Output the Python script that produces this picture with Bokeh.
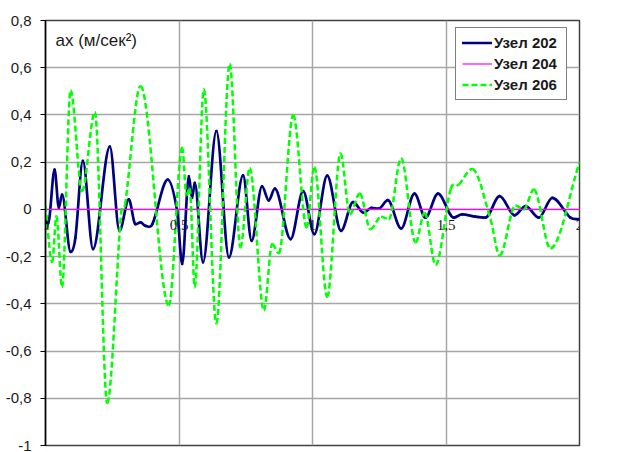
from bokeh.plotting import figure
from bokeh.models import Range1d, Legend, LegendItem, Label, LabelSet, ColumnDataSource, FixedTicker
from bokeh.embed import file_html
from bokeh.resources import INLINE

# ---- data ----
t202 = [0.000, 0.010, 0.034, 0.050, 0.062, 0.094, 0.112, 0.140, 0.178, 0.241,
        0.277, 0.312, 0.337, 0.356, 0.375, 0.400, 0.458, 0.493, 0.512, 0.537,
        0.549, 0.559, 0.590, 0.640, 0.687, 0.740, 0.772, 0.811, 0.836, 0.859,
        0.918, 0.965, 1.007, 1.055, 1.107, 1.152, 1.192, 1.221, 1.248, 1.282,
        1.332, 1.382, 1.423, 1.470, 1.529, 1.560, 1.610, 1.648, 1.701, 1.757,
        1.798, 1.848, 1.898, 1.966, 2.000]
a202 = [-0.05, -0.06, 0.168, 0.007, 0.063, -0.18, -0.12, 0.206, -0.168, 0.266,
        -0.091, 0.042, -0.063, -0.055, -0.07, -0.063, 0.126, -0.007, -0.231, 0.14,
        0.049, 0.112, -0.224, 0.332, -0.203, 0.144, -0.133, 0.098, 0.038, 0.088,
        -0.126, 0.077, -0.105, 0.143, -0.091, 0.031, -0.014, 0.007, 0.003, 0.039,
        -0.081, 0.067, -0.035, 0.067, -0.035, -0.021, -0.031, -0.035, 0.056, -0.025,
        0.014, -0.035, 0.049, -0.035, -0.042]

t204 = [0.0, 2.0]
a204 = [0.0, 0.0]

t206 = [0.000, 0.025, 0.041, 0.062, 0.094, 0.137, 0.185, 0.231, 0.283, 0.298,
        0.356, 0.462, 0.512, 0.528, 0.540, 0.559, 0.593, 0.640, 0.690, 0.730,
        0.765, 0.818, 0.849, 0.874, 0.928, 0.978, 1.007, 1.055, 1.105, 1.140,
        1.177, 1.217, 1.257, 1.286, 1.332, 1.386, 1.420, 1.461, 1.517, 1.548,
        1.598, 1.667, 1.701, 1.760, 1.791, 1.829, 1.891, 2.000]
a206 = [0.014, -0.224, -0.028, -0.33, 0.505, 0.077, 0.413, -0.82, -0.02, 0.02,
        0.523, -0.407, 0.262, 0.06, 0.09, -0.33, 0.509, -0.484, 0.617, -0.161,
        0.175, -0.428, -0.147, -0.186, 0.40, -0.077, 0.18, -0.371, 0.238, -0.021,
        0.067, -0.084, -0.031, -0.042, 0.217, -0.14, -0.014, -0.235, 0.084, 0.105,
        0.171, -0.042, -0.196, 0.017, 0.0, 0.084, -0.165, 0.199]

series_names = ["Узел 202", "Узел 204", "Узел 206"]

x_ticks = [0, 0.5, 1, 1.5, 2]
x_tick_labels = ["0", "0,5", "1", "1,5", "2"]
y_ticks = [-1, -0.8, -0.6, -0.4, -0.2, 0, 0.2, 0.4, 0.6, 0.8]
y_tick_labels = ["-1", "-0,8", "-0,6", "-0,4", "-0,2", "0", "0,2", "0,4", "0,6", "0,8"]

y_title = "ax (м/сек²)"
x_title = "t (сек)"

FONT = "Liberation Sans"


def smooth_segments(xs, ys):
    """Smoothed-line rendering (like a spreadsheet's 'smoothed line'):
    one cubic Bezier per pair of neighbouring data points."""
    n = len(xs)
    m = []
    for i in range(n):
        if i == 0:
            s = (ys[1] - ys[0]) / (xs[1] - xs[0])
        elif i == n - 1:
            s = (ys[-1] - ys[-2]) / (xs[-1] - xs[-2])
        else:
            if (ys[i] - ys[i - 1]) * (ys[i + 1] - ys[i]) <= 0:
                s = 0.0
            else:
                s = (ys[i + 1] - ys[i - 1]) / (xs[i + 1] - xs[i - 1])
        m.append(s)
    d = dict(x0=[], y0=[], x1=[], y1=[], cx0=[], cy0=[], cx1=[], cy1=[])
    for i in range(n - 1):
        h = xs[i + 1] - xs[i]
        d["x0"].append(xs[i]); d["y0"].append(ys[i])
        d["x1"].append(xs[i + 1]); d["y1"].append(ys[i + 1])
        d["cx0"].append(xs[i] + h / 3); d["cy0"].append(ys[i] + m[i] * h / 3)
        d["cx1"].append(xs[i + 1] - h / 3); d["cy1"].append(ys[i + 1] - m[i + 1] * h / 3)
    return ColumnDataSource(d)


p = figure(width=636, height=452, output_backend="svg", toolbar_location=None,
           x_range=Range1d(0, 2), y_range=Range1d(-1, 0.8),
           min_border_left=45, min_border_right=57, min_border_top=20, min_border_bottom=7)
p.background_fill_color = "white"
p.border_fill_color = "white"
p.outline_line_color = "#404040"
p.outline_line_width = 1.5

p.xaxis.visible = False
p.xgrid.ticker = FixedTicker(ticks=x_ticks)
p.ygrid.ticker = FixedTicker(ticks=y_ticks)
for g in (p.xgrid, p.ygrid):
    g.grid_line_color = "#a6a6a6"
    g.grid_line_width = 1.5

ya = p.yaxis[0]
ya.ticker = FixedTicker(ticks=y_ticks)
ya.major_label_overrides = {v: s for v, s in zip(y_ticks, y_tick_labels)}
ya.axis_line_color = "black"
ya.axis_line_width = 1.5
ya.major_tick_line_color = "black"
ya.major_tick_in = 0
ya.major_tick_out = 5
ya.minor_tick_line_color = None
ya.major_label_standoff = 9
ya.major_label_text_font = FONT
ya.major_label_text_font_size = "15px"
ya.major_label_text_color = "#1a1a1a"

bez = dict(x0="x0", y0="y0", x1="x1", y1="y1", cx0="cx0", cy0="cy0", cx1="cx1", cy1="cy1")
r202 = p.bezier(source=smooth_segments(t202, a202), line_color="#000080",
                line_width=2.7, line_cap="round", **bez)
r204 = p.line(t204, a204, line_color="#ff00ff", line_width=1.2)
r206 = p.bezier(source=smooth_segments(t206, a206), line_color="#00ff00",
                line_width=2.5, line_dash="6 3", **bez)

src = ColumnDataSource(dict(x=x_ticks, y=[0.0] * len(x_ticks), text=x_tick_labels))
p.add_layout(LabelSet(x="x", y="y", text="text", source=src, text_align="center",
                      text_baseline="top", y_offset=-11, text_font=FONT,
                      text_font_size="15px", text_color="#1a1a1a"))

p.add_layout(Label(x=0.0375, y=0.715, text=y_title, text_baseline="middle",
                   text_font=FONT, text_font_size="17px", text_color="#1a1a1a"))
p.add_layout(Label(x=2.034, y=0, text=x_title, text_baseline="middle",
                   text_font=FONT, text_font_size="17px", text_color="#1a1a1a"))

legend = Legend(items=[LegendItem(label=series_names[0], renderers=[r202]),
                       LegendItem(label=series_names[1], renderers=[r204]),
                       LegendItem(label=series_names[2], renderers=[r206])],
                location=(410, 345))
legend.label_text_font = FONT
legend.label_text_font_size = "15px"
legend.label_text_font_style = "bold"
legend.label_text_color = "#1a1a1a"
legend.glyph_width = 30
legend.glyph_height = 17
legend.label_height = 17
legend.label_width = 66
legend.label_standoff = 2
legend.spacing = 4
legend.padding = 6
legend.margin = 0
legend.border_line_color = "black"
legend.border_line_width = 1.5
legend.background_fill_color = "white"
legend.background_fill_alpha = 1.0
p.add_layout(legend)

open("out.html", "w").write(file_html(p, INLINE))
